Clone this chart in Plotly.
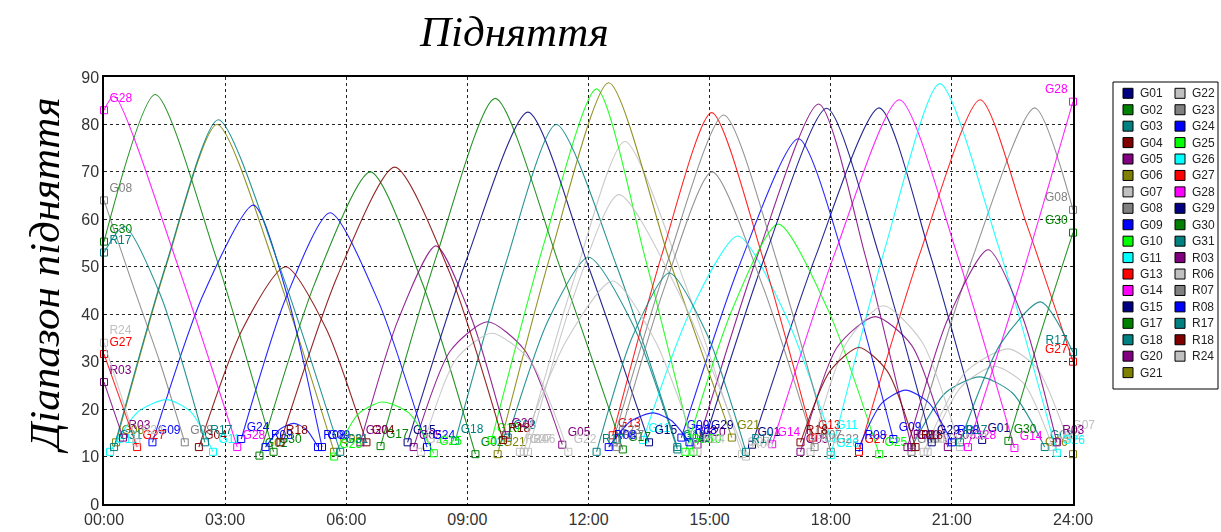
import plotly.graph_objects as go

# ---------------- data (hours of day, elevation in degrees) ----------------
tick_hours = [0, 3, 6, 9, 12, 15, 18, 21, 24]
tick_text = ["00:00", "03:00", "06:00", "09:00", "12:00", "15:00", "18:00", "21:00", "24:00"]
elev_ticks = [0, 10, 20, 30, 40, 50, 60, 70, 80, 90]

sat_names = ["G01", "G02", "G03", "G04", "G05", "G06", "G07", "G08", "G09", "G10", "G11", "G13",
             "G14", "G15", "G17", "G18", "G20", "G21", "G22", "G23", "G24", "G25", "G26", "G27",
             "G28", "G29", "G30", "G31", "R03", "R06", "R07", "R08", "R17", "R18", "R24"]
sat_colors = ["#000080", "#008000", "#008080", "#800000", "#800080", "#808000", "#c0c0c0", "#808080",
              "#0000ff", "#00ff00", "#00ffff", "#ff0000", "#ff00ff", "#000080", "#008000", "#008080",
              "#800080", "#808000", "#c0c0c0", "#808080", "#0000ff", "#00ff00", "#00ffff", "#ff0000",
              "#ff00ff", "#000080", "#008000", "#008080", "#800080", "#c0c0c0", "#808080", "#0000ff",
              "#008080", "#800000", "#c0c0c0"]

# passes separated by None
G01_t = [16.05, 17.63, 19.2, 20.45, 21.75]
G01_el = [12.5, 52.3, 83.5, 52.9, 13.5]
G02_t = [3.85, 5.22, 6.6, 7.9, 9.2]
G02_el = [10.2, 46.5, 70, 46.2, 10.5]
G03_t = [10.0, 11.0, 12.0, 13.1, 14.2, None, 20.0, 20.85, 21.7, 22.5, 23.3]
G03_el = [14, 38.7, 52, 37.8, 11.5, None, 12, 23.5, 26.8, 23.4, 12]
G04_t = [2.35, 3.42, 4.5, 5.5, 6.5]
G04_el = [12, 36.7, 50, 37, 13]
G05_t = [7.67, 8.58, 9.5, 10.42, 11.35, None, 17.25, 18.17, 19.1, 20.0, 20.9]
G05_el = [12, 32.3, 38.4, 32.4, 12.5, None, 11, 33.2, 39.5, 33.5, 12]
G06_t = [0.3, 1.55, 2.8, 4.25, 5.7, None, 24.0]
G06_el = [13, 50.5, 80, 49.6, 11, None, 10.5]
G07_t = [10.4, 11.65, 12.9, 14.35, 15.8, None, 20.3, 21.35, 22.4, 23.12, 23.85]
G07_el = [11, 47.6, 76.4, 47.4, 10.5, None, 11, 27.9, 32.7, 28.5, 14]
G08_t = [0.0, 0.7, 1.4, 2.0, None, 20.0, 21.5, 23.05, 24.0]
G08_el = [64, 46.5, 29.5, 13, None, 11, 51.6, 83.5, 62]
G09_t = [1.2, 2.45, 3.7, 4.55, 5.4, None, 14.3, 15.75, 17.2, 18.38, 19.55]
G09_el = [13, 44, 63, 43.6, 12, None, 14, 50.6, 77, 50.2, 13.7]
G10_t = [9.6, 10.9, 12.2, 13.4, 14.6]
G10_el = [13.5, 55, 87.5, 52, 11]
G11_t = [0.15, 0.85, 1.55, 2.15, 2.7, None, 13.35, 14.5, 15.7, 16.85, 18.0]
G11_el = [11, 19.5, 22, 19.4, 11, None, 13.5, 40.2, 56.5, 40.4, 14]
G13_t = [12.6, 13.82, 15.05, 16.3, 17.55]
G13_el = [14.5, 52.6, 82.5, 52.4, 14]
G14_t = [16.55, 18.12, 19.7, 21.12, 22.55]
G14_el = [12.6, 53.3, 85.2, 52.9, 11.8]
G15_t = [7.52, 9.0, 10.5, 12.0, 13.5]
G15_el = [13, 52, 82.6, 50, 13]
G17_t = [6.85, 8.27, 9.69, 11.27, 12.85]
G17_el = [12.2, 53.2, 85.5, 50.5, 11.5]
G18_t = [8.7, 9.95, 11.2, 12.7, 14.2]
G18_el = [13.3, 50.7, 80, 50.1, 12]
G20_t = [6.35, 7.28, 8.22, 9.1, 9.96, None, 14.7, 16.2, 17.7, 18.85, 20.0]
G20_el = [13, 38.7, 54.4, 39.2, 14.5, None, 12.5, 52.7, 84.3, 52.5, 12]
G21_t = [9.75, 11.12, 12.5, 14.02, 15.55]
G21_el = [10.5, 54.3, 88.8, 51, 14]
G22_t = [7.85, 8.72, 9.6, 10.55, 11.5, None, 20.4, 21.22, 22.05, 22.78, 23.5]
G22_el = [11, 30.5, 36, 30.3, 11, None, 11, 24.6, 29, 25.4, 12]
G23_t = [12.6, 13.98, 15.35, 16.68, 18.0]
G23_el = [13, 51.6, 82, 50.8, 11]
G24_t = [3.4, 4.5, 5.6, 6.8, 8.0]
G24_el = [13.7, 43.3, 61.4, 42.6, 12]
G25_t = [5.7, 6.3, 6.9, 7.55, 8.17, None, 14.4, 15.55, 16.7, 17.95, 19.2]
G25_el = [10, 19, 21.5, 19.2, 10.7, None, 11, 40.8, 59, 40.6, 10.5]
G26_t = [18.0, 19.35, 20.7, 22.15, 23.6]
G26_el = [10.3, 54.1, 88.6, 54.4, 10.8]
G27_t = [0.0, 0.82, None, 18.7, 20.2, 21.7, 22.85, 24.0]
G27_el = [31.6, 12, None, 11, 52.6, 85.2, 59, 30]
G28_t = [0.0, 0.25, 1.8, 3.3, None, 21.4, 22.7, 24.0]
G28_el = [83, 86, 51, 12, None, 12, 47, 84.8]
G29_t = [14.9, 16.4, 17.9, 19.2, 20.5]
G29_el = [14, 52.9, 83.4, 52.4, 13]
G30_t = [0.0, 1.27, 2.73, 4.2, None, 22.4, 23.2, 24.0]
G30_el = [55.3, 86.3, 53.2, 11, None, 13.3, 36, 57.2]
G31_t = [0.25, 1.54, 2.83, 4.34, 5.85]
G31_el = [12, 50.6, 81, 50.2, 11]
R03_t = [0.0, 0.47, None, 19.9, 20.9, 21.9, 22.75, 23.6]
R03_el = [25.7, 14, None, 12, 39, 53.6, 39.4, 13]
R06_t = [10.5, 11.62, 12.75, 14.32, 15.9, None, 17.5, 18.4, 19.3, 20.25, 21.2]
R06_el = [11, 43.5, 65.2, 43.1, 10, None, 11, 34.1, 41.8, 34.3, 12]
R07_t = [12.7, 13.88, 15.06, 16.33, 17.6]
R07_el = [12, 45.6, 70, 45.6, 12]
R08_t = [4.0, 4.35, 4.7, 5.0, 5.3, None, 12.5, 13.05, 13.6, 14.05, 14.5, None, 18.7, 19.27, 19.85, 20.42, 21.0]
R08_el = [12, 15.7, 17, 15.8, 12, None, 12, 17.5, 19.2, 17.6, 13, None, 12, 21.3, 24, 21.4, 13]
R17_t = [0.0, 0.5, 1.4, 2.5, None, 12.2, 13.1, 14.0, 14.95, 15.9, None, 21.2, 22.2, 23.2, 24.0]
R17_el = [53, 58.5, 44, 13, None, 11, 35.5, 48.7, 35.5, 11, None, 13, 33.7, 42.6, 32]
R18_t = [4.37, 5.78, 7.2, 8.55, 9.88, None, 17.25, 17.98, 18.7, 19.4, 20.1]
R18_el = [13, 48, 71, 49, 13.5, None, 13, 28, 33, 28, 12]
R24_t = [0.0, 0.8, None, 10.3, 11.45, 12.6, 13.65, 14.7]
R24_el = [34, 13, None, 11, 34.4, 47, 34.4, 11]

# ---------------- figure ----------------
W, H = 1221, 532
ML, MR, MT, MB = 104, 148, 77, 28
PW, PH = W - ML - MR, H - MT - MB


def px2paper(px, py):
    return (px - ML) / PW, (H - MB - py) / PH


fig = go.Figure()

for name, color in zip(sat_names, sat_colors):
    ts = globals()[name + "_t"]
    es = globals()[name + "_el"]
    fig.add_trace(go.Scatter(x=ts, y=es, mode="lines", connectgaps=False,
                             line=dict(color=color, width=1.1, shape="spline", smoothing=0.7),
                             opacity=0.85, showlegend=False, hoverinfo="skip"))
    # pass end points
    ex, ey, pos = [], [], []
    seg = []
    for t, e in list(zip(ts, es)) + [(None, None)]:
        if t is None:
            if seg:
                for (tt, ee) in (seg[0], seg[-1]) if len(seg) > 1 else (seg[0],):
                    ex.append(tt)
                    ey.append(ee)
                    pos.append("top left" if tt >= 23.99 else "top right")
            seg = []
        else:
            seg.append((t, e))
    fig.add_trace(go.Scatter(x=ex, y=ey, mode="markers+text", text=[name] * len(ex),
                             textposition=pos, cliponaxis=False,
                             textfont=dict(family="Liberation Sans, Arial", size=12, color=color),
                             marker=dict(symbol="square-open", size=7, color=color,
                                         line=dict(width=1, color=color)),
                             showlegend=False, hoverinfo="skip"))

fig.update_xaxes(range=[0, 24], tickmode="array", tickvals=tick_hours, ticktext=tick_text,
                 showgrid=True, gridcolor="#222222", griddash="3px,3px", gridwidth=1,
                 showline=True, linecolor="black", linewidth=1.5, mirror=True,
                 zeroline=False, ticks="", tickfont=dict(family="Liberation Sans, Arial", size=16, color="#333333"))
fig.update_yaxes(range=[0, 90], tickmode="array", tickvals=elev_ticks,
                 showgrid=True, gridcolor="#222222", griddash="3px,3px", gridwidth=1,
                 showline=True, linecolor="black", linewidth=1.5, mirror=True,
                 zeroline=False, ticks="", tickfont=dict(family="Liberation Sans, Arial", size=16, color="#333333"))

shapes = []
annotations = []

# title and axis title
tx, ty = px2paper(514, 31)
annotations.append(dict(text="Підняття", x=tx, y=ty, xref="paper", yref="paper", showarrow=False,
                        xanchor="center", yanchor="middle",
                        font=dict(family="Liberation Serif, Times New Roman", size=43, style="italic", color="black")))
ax_, ay_ = px2paper(44, 276)
annotations.append(dict(text="Діапазон підняття", x=ax_, y=ay_, xref="paper", yref="paper", showarrow=False,
                        xanchor="center", yanchor="middle", textangle=-90,
                        font=dict(family="Liberation Serif, Times New Roman", size=43, style="italic", color="black")))

# manual legend (two columns)
x0, y0 = px2paper(1113, 82)
x1, y1 = px2paper(1218, 389)
shapes.append(dict(type="rect", xref="paper", yref="paper", x0=x0, y0=y1, x1=x1, y1=y0,
                   line=dict(color="black", width=1), fillcolor="white"))
row_h = 16.43
for i, (name, color) in enumerate(zip(sat_names, sat_colors)):
    col = 0 if i < 18 else 1
    row = i if i < 18 else i - 18
    cy = 93.3 + row * row_h
    sx = 1123 if col == 0 else 1175
    a0, b0 = px2paper(sx, cy - 5)
    a1, b1 = px2paper(sx + 10, cy + 5)
    shapes.append(dict(type="rect", xref="paper", yref="paper", x0=a0, y0=b1, x1=a1, y1=b0,
                       line=dict(color="black", width=1), fillcolor=color))
    lx, ly = px2paper(sx + 15, cy)
    annotations.append(dict(text=name, x=lx, y=ly, xref="paper", yref="paper", showarrow=False,
                            xanchor="left", yanchor="middle",
                            font=dict(family="Liberation Sans, Arial", size=12, color="#222222")))

fig.update_layout(width=W, height=H, margin=dict(l=ML, r=MR, t=MT, b=MB, autoexpand=False),
                  plot_bgcolor="white", paper_bgcolor="white", showlegend=False,
                  shapes=shapes, annotations=annotations)

fig.write_html("out.html", config={"displayModeBar": False},
               post_script="document.body.style.margin='0';document.body.style.overflow='hidden';")
